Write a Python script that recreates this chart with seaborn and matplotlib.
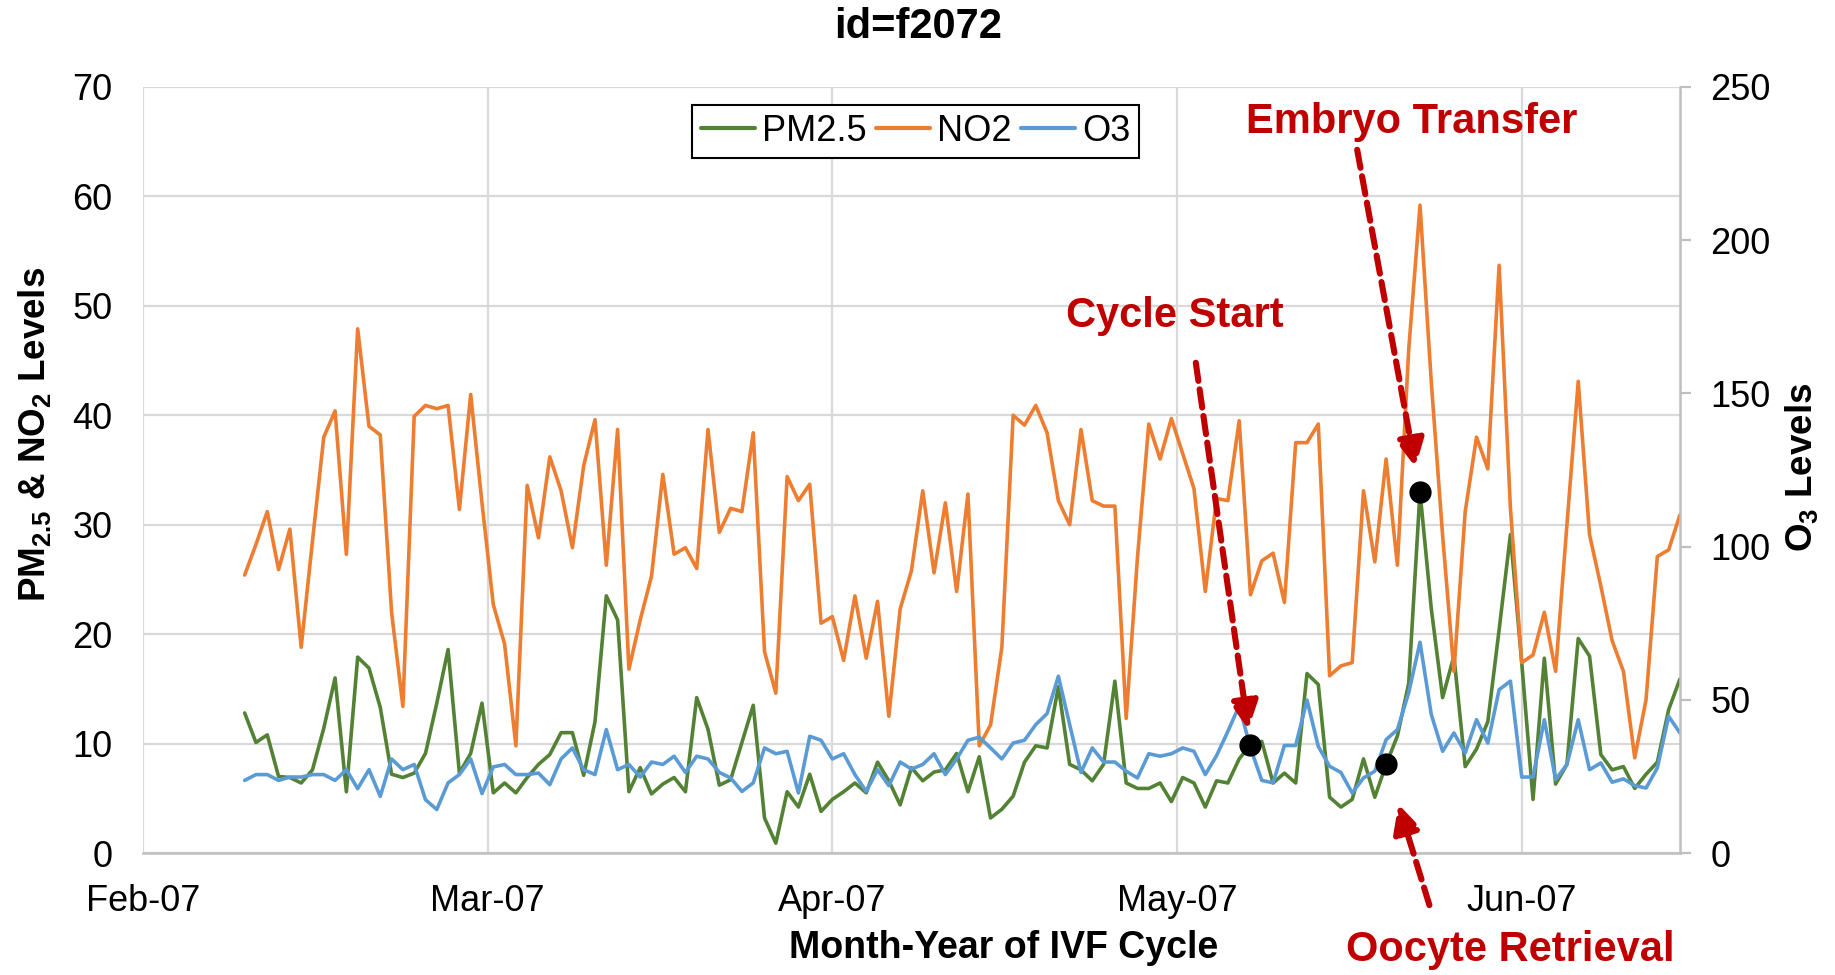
import matplotlib
matplotlib.use("Agg")
import matplotlib.pyplot as plt
import matplotlib.dates as mdates
import pandas as pd
import seaborn as sns

# daily series, first reading on 10 Feb 2007
start_date = "2007-02-10"
axis_start = "2007-02-01"

pm25 = [12.8, 10.1, 10.8, 7.0, 6.9, 6.4, 7.6, 11.4, 16.0, 5.6,
        17.9, 16.9, 13.3, 7.2, 6.9, 7.3, 9.1, 13.7, 18.6, 7.3,
        9.1, 13.7, 5.5, 6.4, 5.5, 6.9, 8.1, 9.0, 11.0, 11.0,
        7.1, 12.0, 23.5, 21.3, 5.6, 7.8, 5.4, 6.3, 6.9, 5.6,
        14.2, 11.3, 6.2, 6.7, 10.1, 13.5, 3.2, 0.9, 5.6, 4.2,
        7.2, 3.8, 4.9, 5.6, 6.4, 5.5, 8.3, 6.6, 4.4, 7.8,
        6.6, 7.4, 7.6, 9.1, 5.6, 8.8, 3.2, 4.0, 5.2, 8.3,
        9.8, 9.6, 15.2, 8.1, 7.6, 6.6, 8.1, 15.7, 6.4, 5.9,
        5.9, 6.4, 4.7, 6.9, 6.4, 4.2, 6.6, 6.4, 8.6, 9.9,
        10.2, 6.4, 7.3, 6.4, 16.4, 15.4, 5.1, 4.2, 4.9, 8.6,
        5.1, 8.1, 10.7, 15.5, 33.0, 22.3, 14.2, 18.0, 7.9, 9.5,
        12.0, 20.4, 29.1, 17.4, 4.9, 17.8, 6.3, 8.1, 19.6, 18.0,
        9.0, 7.6, 7.9, 5.9, 7.2, 8.3, 13.1, 15.9]

no2 = [25.4, 28.2, 31.2, 25.9, 29.6, 18.8, 28.5, 38.0, 40.4, 27.3,
       47.9, 39.0, 38.2, 22.0, 13.4, 39.9, 40.9, 40.6, 40.9, 31.4,
       41.9, 32.0, 22.7, 19.1, 9.8, 33.6, 28.8, 36.2, 33.1, 27.9,
       35.4, 39.6, 26.3, 38.7, 16.8, 21.3, 25.3, 34.6, 27.3, 27.9,
       26.0, 38.7, 29.3, 31.5, 31.2, 38.4, 18.4, 14.6, 34.4, 32.2,
       33.7, 21.0, 21.6, 17.6, 23.5, 17.8, 23.0, 12.5, 22.3, 25.8,
       33.1, 25.6, 32.0, 23.9, 32.8, 9.8, 11.7, 18.8, 40.0, 39.1,
       40.9, 38.4, 32.2, 30.0, 38.7, 32.2, 31.7, 31.7, 12.3, 27.0,
       39.2, 36.0, 39.7, 36.5, 33.3, 23.9, 32.4, 32.2, 39.5, 23.6,
       26.7, 27.4, 22.9, 37.5, 37.5, 39.2, 16.2, 17.1, 17.4, 33.1,
       26.6, 36.0, 26.3, 46.0, 59.2, 43.0, 29.0, 16.6, 31.2, 38.0,
       35.1, 53.7, 31.5, 17.4, 18.1, 22.0, 16.6, 30.0, 43.1, 29.1,
       24.4, 19.4, 16.6, 8.7, 14.0, 27.1, 27.7, 30.9]

o3 = [23.7, 25.6, 25.6, 23.7, 24.8, 24.8, 25.6, 25.6, 23.7, 27.2,
      21.0, 27.2, 18.5, 30.7, 27.2, 28.9, 17.4, 14.2, 22.9, 25.6,
      30.7, 19.4, 28.1, 28.9, 25.6, 25.6, 26.1, 22.3, 30.7, 34.3,
      27.2, 25.6, 40.3, 27.2, 28.9, 24.8, 29.7, 28.9, 31.6, 26.3,
      31.6, 30.7, 26.3, 24.5, 20.1, 22.9, 34.3, 32.4, 33.2, 19.6,
      38.1, 36.8, 30.7, 32.4, 25.6, 20.1, 27.2, 22.0, 29.7, 27.4,
      28.9, 32.4, 25.6, 30.7, 36.8, 37.8, 34.3, 30.7, 35.9, 36.8,
      41.9, 45.5, 57.7, 41.9, 26.3, 34.3, 29.7, 29.7, 26.7, 24.5,
      32.4, 31.6, 32.4, 34.3, 33.2, 25.6, 31.8, 39.7, 48.1, 34.3,
      23.7, 22.9, 35.1, 35.1, 49.9, 34.8, 28.3, 26.3, 19.6, 24.5,
      26.7, 37.0, 40.3, 52.3, 68.8, 45.2, 33.2, 39.2, 32.7, 43.5,
      35.9, 53.3, 56.1, 24.8, 24.8, 43.5, 24.0, 28.9, 43.5, 27.2,
      29.4, 23.1, 24.2, 22.0, 21.2, 27.8, 44.6, 39.2]

month_labels = ["Feb-07", "Mar-07", "Apr-07", "May-07", "Jun-07"]
event_names = ["Cycle Start", "Oocyte Retrieval", "Embryo Transfer"]
event_dates = ["2007-05-10", "2007-05-22", "2007-05-25"]

GREEN = "#548235"
ORANGE = "#ED7D31"
BLUE = "#5B9BD5"
RED = "#C00000"
GRID = "#D9D9D9"
AXIS = "#BFBFBF"

dates = pd.date_range(start_date, periods=len(pm25), freq="D")
df = pd.DataFrame({"date": dates, "PM2.5": pm25, "NO2": no2, "O3": o3})
pm_by_date = df.set_index("date")["PM2.5"]

sns.set_style("white")
plt.rcParams["font.family"] = ["Liberation Sans", "DejaVu Sans"]
plt.rcParams["text.color"] = "black"
plt.rcParams["mathtext.fontset"] = "custom"
plt.rcParams["mathtext.rm"] = "Liberation Sans"
plt.rcParams["mathtext.bf"] = "Liberation Sans:bold"
plt.rcParams["mathtext.default"] = "bf"

fig = plt.figure(figsize=(18.35, 9.75), dpi=100)
ax = fig.add_axes([0.0779, 0.1251, 0.8376, 0.7857])
ax2 = ax.twinx()

sns.lineplot(data=df, x="date", y="PM2.5", ax=ax, color=GREEN, lw=2.6, label="PM2.5", legend=False)
sns.lineplot(data=df, x="date", y="NO2", ax=ax, color=ORANGE, lw=2.6, label="NO2", legend=False)
sns.lineplot(data=df, x="date", y="O3", ax=ax2, color=BLUE, lw=2.6, label="O3", legend=False)

# event markers sit on the PM2.5 line (left axis units), drawn above everything
ev = pd.to_datetime(event_dates)
ev_num = mdates.date2num(ev)
ev_vals = [float(pm_by_date[d]) for d in ev]
ax2.plot(ev_num, ev_vals, "o", color="black", ms=15, transform=ax.transData, zorder=6)

# axes ranges and ticks
x0 = pd.Timestamp(axis_start)
ax.set_xlim(x0, x0 + pd.Timedelta(days=136))
ax.set_xticks([x0 + pd.Timedelta(days=30.5 * k) for k in range(len(month_labels))])
ax.set_xticklabels(month_labels)
ax.set_ylim(0, 70)
ax.set_yticks(range(0, 71, 10))
ax2.set_ylim(0, 250)
ax2.set_yticks(range(0, 251, 50))
ax.set_xlabel("")
ax.set_ylabel("")
ax2.set_ylabel("")

ax.set_axisbelow(True)
ax.grid(True, color=GRID, lw=1.6)
for s in ["left", "top", "right"]:
    ax.spines[s].set_visible(False)
ax.spines["bottom"].set_color(AXIS)
ax.spines["bottom"].set_linewidth(1.8)
for s in ["left", "top", "bottom"]:
    ax2.spines[s].set_visible(False)
ax2.spines["right"].set_color(AXIS)
ax2.spines["right"].set_linewidth(1.8)

ax.tick_params(axis="x", length=0, pad=22, labelsize=26, labelcolor="black")
ax.tick_params(axis="y", length=0, pad=22, labelsize=26, labelcolor="black")
ax2.tick_params(axis="y", length=8, width=1.6, color=AXIS, pad=14, labelsize=26, labelcolor="black")

# labels
fig.text(0.5003, 0.972, "id=f2072", ha="center", va="center", fontsize=30, fontweight="bold")
ax.text(0.560, -0.124, "Month-Year of IVF Cycle", transform=ax.transAxes,
        ha="center", va="center", fontsize=27, fontweight="bold")
ax.text(-0.0703, 0.546, "PM$_{2.5}$ & NO$_2$ Levels", transform=ax.transAxes,
        rotation=90, ha="center", va="center", fontsize=26.5, fontweight="bold")
ax.text(1.0794, 0.503, "O$_3$ Levels", transform=ax.transAxes,
        rotation=90, ha="center", va="center", fontsize=26.5, fontweight="bold")

# legend
h1, l1 = ax.get_legend_handles_labels()
h2, l2 = ax2.get_legend_handles_labels()
leg = ax2.legend(h1 + h2, l1 + l2, loc="upper left", bbox_to_anchor=(0.357, 0.977),
                 ncol=3, fontsize=26, frameon=True, fancybox=False, framealpha=1,
                 edgecolor="black", borderpad=0.25, handlelength=1.5,
                 handletextpad=0.2, columnspacing=0.25, borderaxespad=0)
leg.get_frame().set_linewidth(1.5)
for line in leg.get_lines():
    line.set_linewidth(3)

# event annotations
text_pos = {"Cycle Start": (0.6714, 0.701),
            "Oocyte Retrieval": (0.8894, -0.1266),
            "Embryo Transfer": (0.8256, 0.954)}
tail_pos = {"Cycle Start": (0.685, 0.640),
            "Oocyte Retrieval": (0.837, -0.068),
            "Embryo Transfer": (0.790, 0.918)}
tip_gap = {"Cycle Start": 11, "Oocyte Retrieval": 30, "Embryo Transfer": 18}

for name, d, v in zip(event_names, ev_num, ev_vals):
    ax2.text(*text_pos[name], name, transform=ax.transAxes, ha="center", va="center",
             fontsize=30, fontweight="bold", color=RED, zorder=7)
    ax2.annotate("", xy=(d, v), xycoords=ax.transData,
                 xytext=tail_pos[name], textcoords="axes fraction",
                 arrowprops=dict(arrowstyle="-|>,head_length=0.6,head_width=0.3",
                                 color=RED, lw=4.4, linestyle=(0, (3, 1.4)),
                                 mutation_scale=28, shrinkA=0, shrinkB=tip_gap[name]),
                 annotation_clip=False, zorder=7)

fig.savefig("out.png", dpi=100)
